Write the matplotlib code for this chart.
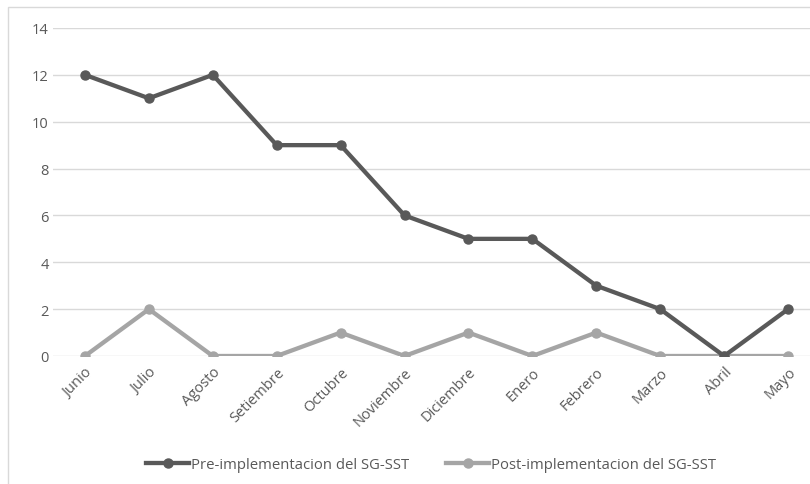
import matplotlib.pyplot as plt
from matplotlib.patches import Rectangle

# datos
meses = ['Junio', 'Julio', 'Agosto', 'Setiembre', 'Octubre', 'Noviembre',
         'Diciembre', 'Enero', 'Febrero', 'Marzo', 'Abril', 'Mayo']
pre = [12, 11, 12, 9, 9, 6, 5, 5, 3, 2, 0, 2]
post = [0, 2, 0, 0, 1, 0, 1, 0, 1, 0, 0, 0]

plt.rcParams['font.family'] = ['Open Sans', 'DejaVu Sans']

fig = plt.figure(figsize=(8.1, 4.85), dpi=100)
# marco del grafico
fig.patches.append(Rectangle((8/810, -0.1), 1.2, 1 - 8/485 + 0.1, transform=fig.transFigure,
                             fill=False, edgecolor='#d9d9d9', linewidth=1))

ax = fig.add_axes([53/810, 128/485, 767/810, 328/485])
x = range(len(meses))
ax.plot(x, pre, color='#595959', lw=3.1, marker='o', ms=6.5, label='Pre-implementacion del SG-SST', zorder=3)
ax.plot(x, post, color='#a5a5a5', lw=3.1, marker='o', ms=6.5, label='Post-implementacion del SG-SST', zorder=2)

ax.set_xlim(-0.5, len(meses) - 0.5)
ax.set_ylim(0, 14)
ax.set_yticks(range(0, 15, 2))
ax.set_xticks(list(x))
ax.set_xticklabels(meses, rotation=45, ha='right', rotation_mode='anchor')
ax.grid(axis='y', color='#d9d9d9', lw=1)
ax.set_axisbelow(True)
for s in ax.spines.values():
    s.set_visible(False)
ax.tick_params(length=0, labelsize=10.5, colors='#595959')
ax.tick_params(axis='y', pad=3)
ax.tick_params(axis='x', pad=6)

fig.legend(loc='center', bbox_to_anchor=(431/810, 1 - 466/485), ncol=2, frameon=False,
           fontsize=10.7, labelcolor='#595959', handlelength=2.9, handletextpad=0.1,
           columnspacing=2.5)

fig.savefig('out.png', dpi=100)
